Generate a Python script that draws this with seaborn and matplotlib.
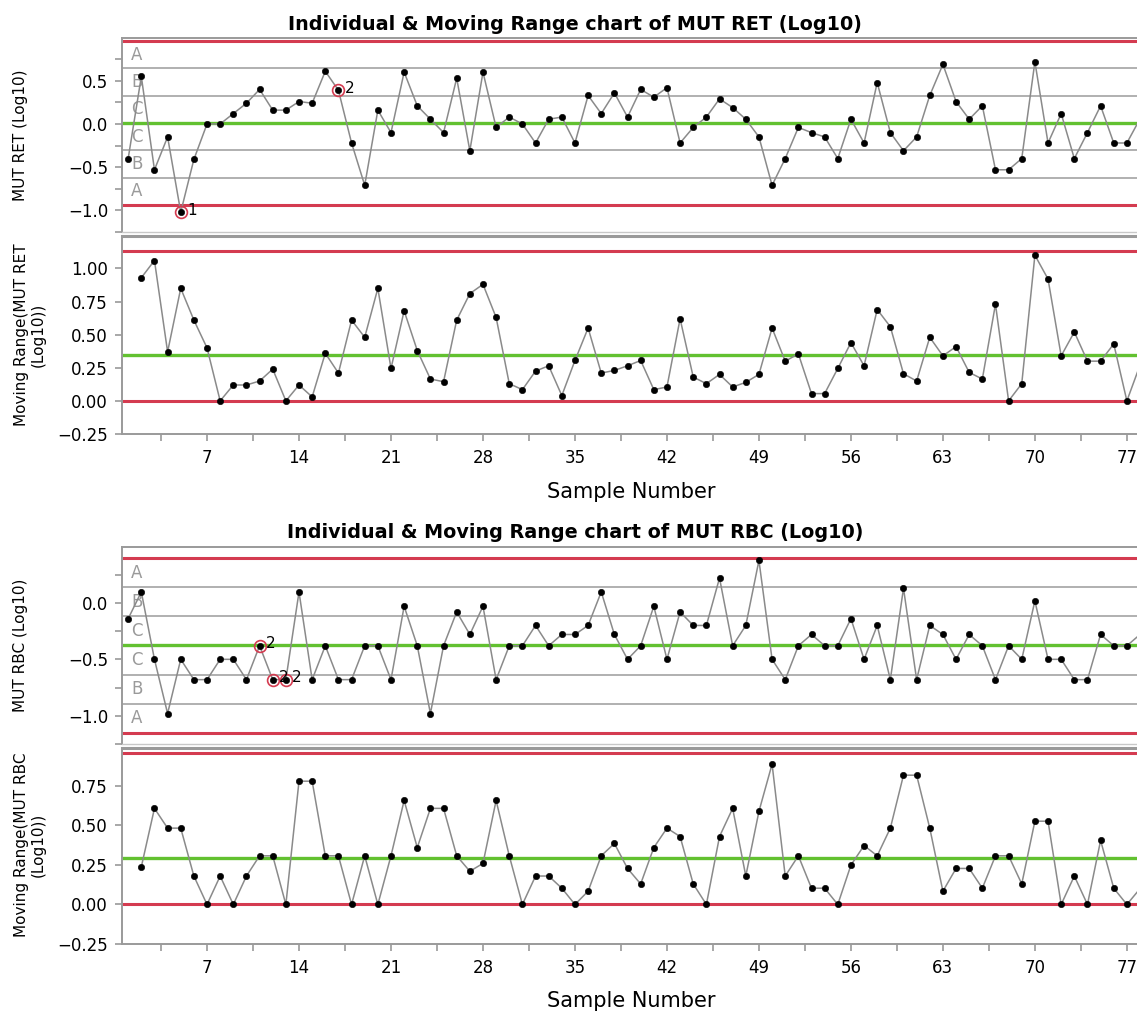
import numpy as np
import pandas as pd
import matplotlib
matplotlib.use('Agg')
import matplotlib.pyplot as plt
import matplotlib.transforms as mtransforms
from matplotlib.ticker import MultipleLocator, FixedLocator
import seaborn as sns

# valeurs (Log10)
samples = list(range(1, 79))

ret = [-0.40, 0.55, -0.53, -0.15, -1.02, -0.41, 0.00, 0.00, 0.12, 0.24,
       0.40, 0.16, 0.16, 0.26, 0.24, 0.61, 0.39, -0.22, -0.71, 0.16,
       -0.10, 0.60, 0.21, 0.055, -0.10, 0.53, -0.31, 0.60, -0.04, 0.08,
       0.00, -0.22, 0.055, 0.08, -0.22, 0.33, 0.12, 0.36, 0.08, 0.40,
       0.31, 0.42, -0.22, -0.04, 0.08, 0.29, 0.19, 0.055, -0.15, -0.71,
       -0.40, -0.04, -0.10, -0.15, -0.40, 0.055, -0.22, 0.48, -0.10, -0.31,
       -0.15, 0.33, 0.69, 0.26, 0.055, 0.21, -0.53, -0.53, -0.40, 0.72,
       -0.22, 0.12, -0.40, -0.10, 0.21, -0.22, -0.22, 0.06]

ret_mr = [np.nan, 0.93, 1.06, 0.37, 0.85, 0.61, 0.40, 0.00, 0.12, 0.12,
          0.15, 0.24, 0.00, 0.12, 0.03, 0.36, 0.21, 0.61, 0.48, 0.85,
          0.245, 0.68, 0.38, 0.165, 0.145, 0.61, 0.81, 0.88, 0.63, 0.13,
          0.085, 0.225, 0.265, 0.04, 0.305, 0.55, 0.21, 0.23, 0.265, 0.305,
          0.085, 0.105, 0.62, 0.18, 0.13, 0.20, 0.105, 0.14, 0.20, 0.55,
          0.30, 0.355, 0.055, 0.055, 0.245, 0.44, 0.265, 0.69, 0.56, 0.205,
          0.15, 0.48, 0.34, 0.41, 0.215, 0.165, 0.73, 0.00, 0.13, 1.10,
          0.92, 0.34, 0.52, 0.30, 0.30, 0.43, 0.00, 0.27]

rbc = [-0.14, 0.097, -0.50, -0.98, -0.50, -0.68, -0.68, -0.50, -0.50, -0.68,
       -0.38, -0.68, -0.68, 0.097, -0.68, -0.38, -0.68, -0.68, -0.38, -0.38,
       -0.68, -0.03, -0.38, -0.98, -0.38, -0.08, -0.28, -0.03, -0.68, -0.38,
       -0.38, -0.20, -0.38, -0.28, -0.28, -0.20, 0.097, -0.28, -0.50, -0.38,
       -0.03, -0.50, -0.08, -0.20, -0.20, 0.22, -0.38, -0.20, 0.376, -0.50,
       -0.68, -0.38, -0.28, -0.38, -0.38, -0.14, -0.50, -0.20, -0.68, 0.13,
       -0.68, -0.20, -0.28, -0.50, -0.28, -0.38, -0.68, -0.38, -0.50, 0.018,
       -0.50, -0.50, -0.68, -0.68, -0.28, -0.38, -0.38, -0.28]

rbc_mr = [np.nan, 0.238, 0.608, 0.483, 0.483, 0.18, 0.0, 0.18, 0.0, 0.18,
          0.308, 0.308, 0.0, 0.78, 0.78, 0.308, 0.308, 0.0, 0.308, 0.0,
          0.308, 0.658, 0.36, 0.608, 0.608, 0.308, 0.21, 0.26, 0.658, 0.308,
          0.0, 0.18, 0.18, 0.103, 0.0, 0.084, 0.308, 0.386, 0.228, 0.13,
          0.36, 0.483, 0.43, 0.13, 0.0, 0.43, 0.608, 0.18, 0.589, 0.888,
          0.18, 0.308, 0.103, 0.103, 0.0, 0.249, 0.373, 0.308, 0.483, 0.818,
          0.818, 0.483, 0.084, 0.228, 0.228, 0.103, 0.308, 0.308, 0.13, 0.527,
          0.527, 0.0, 0.18, 0.0, 0.405, 0.103, 0.0, 0.10]

# limites de controle
ret_cl, ret_ucl, ret_lcl = 0.012, 0.96, -0.935
ret_mr_cl, ret_mr_ucl, ret_mr_lcl = 0.349, 1.135, 0.0
rbc_cl, rbc_ucl, rbc_lcl = -0.377, 0.397, -1.151
rbc_mr_cl, rbc_mr_ucl, rbc_mr_lcl = 0.297, 0.96, 0.0

# pontos sinalizados (teste)
ret_flags = {5: '1', 17: '2'}
rbc_flags = {11: '2', 12: '2', 13: '2'}

RED = '#d43b50'
GREEN = '#62c130'
ZGRAY = '#a3a3a3'
LGRAY = '#8a8a8a'
SPINE = '#9a9a9a'

sns.set_theme(style='white')
plt.rcParams['font.family'] = ['DejaVu Sans']
plt.rcParams['text.color'] = 'black'

W, H = 1137, 1013
fig = plt.figure(figsize=(W / 100, H / 100), dpi=100)
XMIN, XMAX = 0.53, 77.77


def px_axes(left, top, right, bottom):
    return fig.add_axes([left / W, 1 - bottom / H, (right - left) / W, (bottom - top) / H])


def serie(ax, y):
    df = pd.DataFrame({'Sample': samples, 'Value': y})
    sns.lineplot(data=df, x='Sample', y='Value', ax=ax, color=LGRAY, lw=1.1,
                 marker='o', markersize=4.6, markerfacecolor='black',
                 markeredgecolor='black', markeredgewidth=0.4, zorder=5)
    ax.set_xlabel('')
    ax.set_ylabel('')


def estilo(ax, ylim):
    ax.set_xlim(XMIN, XMAX)
    ax.set_ylim(*ylim)
    for s in ['left', 'bottom', 'top']:
        ax.spines[s].set_color(SPINE)
        ax.spines[s].set_linewidth(1.4)
    ax.spines['right'].set_visible(False)
    ax.tick_params(axis='y', which='both', left=True, direction='out', color=SPINE,
                   labelsize=12, pad=5, labelcolor='black')
    ax.tick_params(axis='y', which='major', length=5, width=1.2)
    ax.tick_params(axis='y', which='minor', length=5, width=1.2)


def individual(ax, y, cl, ucl, lcl, flags, ylim):
    estilo(ax, ylim)
    sig = (ucl - cl) / 3
    for k in [-2, -1, 1, 2]:
        ax.axhline(cl + k * sig, color=ZGRAY, lw=1.2, zorder=1)
    ax.axhline(ucl, color=RED, lw=2.2, zorder=2)
    ax.axhline(lcl, color=RED, lw=2.2, zorder=2)
    ax.axhline(cl, color=GREEN, lw=2.4, zorder=2)
    trans = mtransforms.blended_transform_factory(ax.transAxes, ax.transData)
    for k, letra in zip([2.5, 1.5, 0.5, -0.5, -1.5, -2.5], 'ABCCBA'):
        ax.text(0.009, cl + k * sig, letra, transform=trans, color='#9a9a9a',
                fontsize=12, ha='left', va='center', zorder=3)
    serie(ax, y)
    for i, lab in flags.items():
        ax.plot(i, y[i - 1], 'o', mfc='none', mec=RED, ms=8.5, mew=1.2, zorder=6)
        ax.annotate(lab, (i, y[i - 1]), xytext=(4.5, 1.5), textcoords='offset points',
                    fontsize=11, ha='left', va='center', zorder=7)
    ax.yaxis.set_major_locator(MultipleLocator(0.5))
    ax.yaxis.set_minor_locator(MultipleLocator(0.25))
    ax.tick_params(axis='x', which='both', bottom=False, labelbottom=False)
    ax.spines['bottom'].set_color('#c8c8c8')
    ax.spines['bottom'].set_linewidth(1.0)


def moving_range(ax, y, cl, ucl, lcl, ylim):
    estilo(ax, ylim)
    ax.spines['top'].set_linewidth(2.2)
    ax.axhline(ucl, color=RED, lw=2.2, zorder=2)
    ax.axhline(lcl, color=RED, lw=2.2, zorder=2)
    ax.axhline(cl, color=GREEN, lw=2.4, zorder=2)
    serie(ax, y)
    ax.yaxis.set_major_locator(MultipleLocator(0.25))
    ax.xaxis.set_major_locator(MultipleLocator(7))
    ax.xaxis.set_minor_locator(FixedLocator(np.arange(3.5, 80, 7)))
    ax.tick_params(axis='x', which='both', bottom=True, direction='out', color=SPINE,
                   length=5, width=1.2, labelsize=12, pad=6, labelcolor='black')


# MUT RET
ax1 = px_axes(122, 38, 1137, 232)
individual(ax1, ret, ret_cl, ret_ucl, ret_lcl, ret_flags, (-1.2501, 0.995))
ax2 = px_axes(122, 236, 1137, 434)
moving_range(ax2, ret_mr, ret_mr_cl, ret_mr_ucl, ret_mr_lcl, (-0.25, 1.245))

# MUT RBC
ax3 = px_axes(122, 547, 1137, 744)
individual(ax3, rbc, rbc_cl, rbc_ucl, rbc_lcl, rbc_flags, (-1.2501, 0.495))
ax4 = px_axes(122, 748, 1137, 944)
moving_range(ax4, rbc_mr, rbc_mr_cl, rbc_mr_ucl, rbc_mr_lcl, (-0.25, 0.99))

# textos
fig.text(575 / W, 1 - 24 / H, 'Individual & Moving Range chart of MUT RET (Log10)',
         ha='center', va='center', fontsize=13.8, fontweight='bold')
fig.text(575 / W, 1 - 532 / H, 'Individual & Moving Range chart of MUT RBC (Log10)',
         ha='center', va='center', fontsize=13.8, fontweight='bold')

fig.text(20 / W, 1 - 135 / H, 'MUT RET (Log10)', rotation=90, ha='center', va='center', fontsize=11)
fig.text(30 / W, 1 - 335 / H, 'Moving Range(MUT RET\n(Log10))', rotation=90, ha='center',
         va='center', fontsize=11, multialignment='center')
fig.text(20 / W, 1 - 645 / H, 'MUT RBC (Log10)', rotation=90, ha='center', va='center', fontsize=11)
fig.text(30 / W, 1 - 845 / H, 'Moving Range(MUT RBC\n(Log10))', rotation=90, ha='center',
         va='center', fontsize=11, multialignment='center')

fig.text(631 / W, 1 - 492 / H, 'Sample Number', ha='center', va='center', fontsize=15)
fig.text(631 / W, 1 - 1001 / H, 'Sample Number', ha='center', va='center', fontsize=15)

plt.savefig('out.png', dpi=100)
